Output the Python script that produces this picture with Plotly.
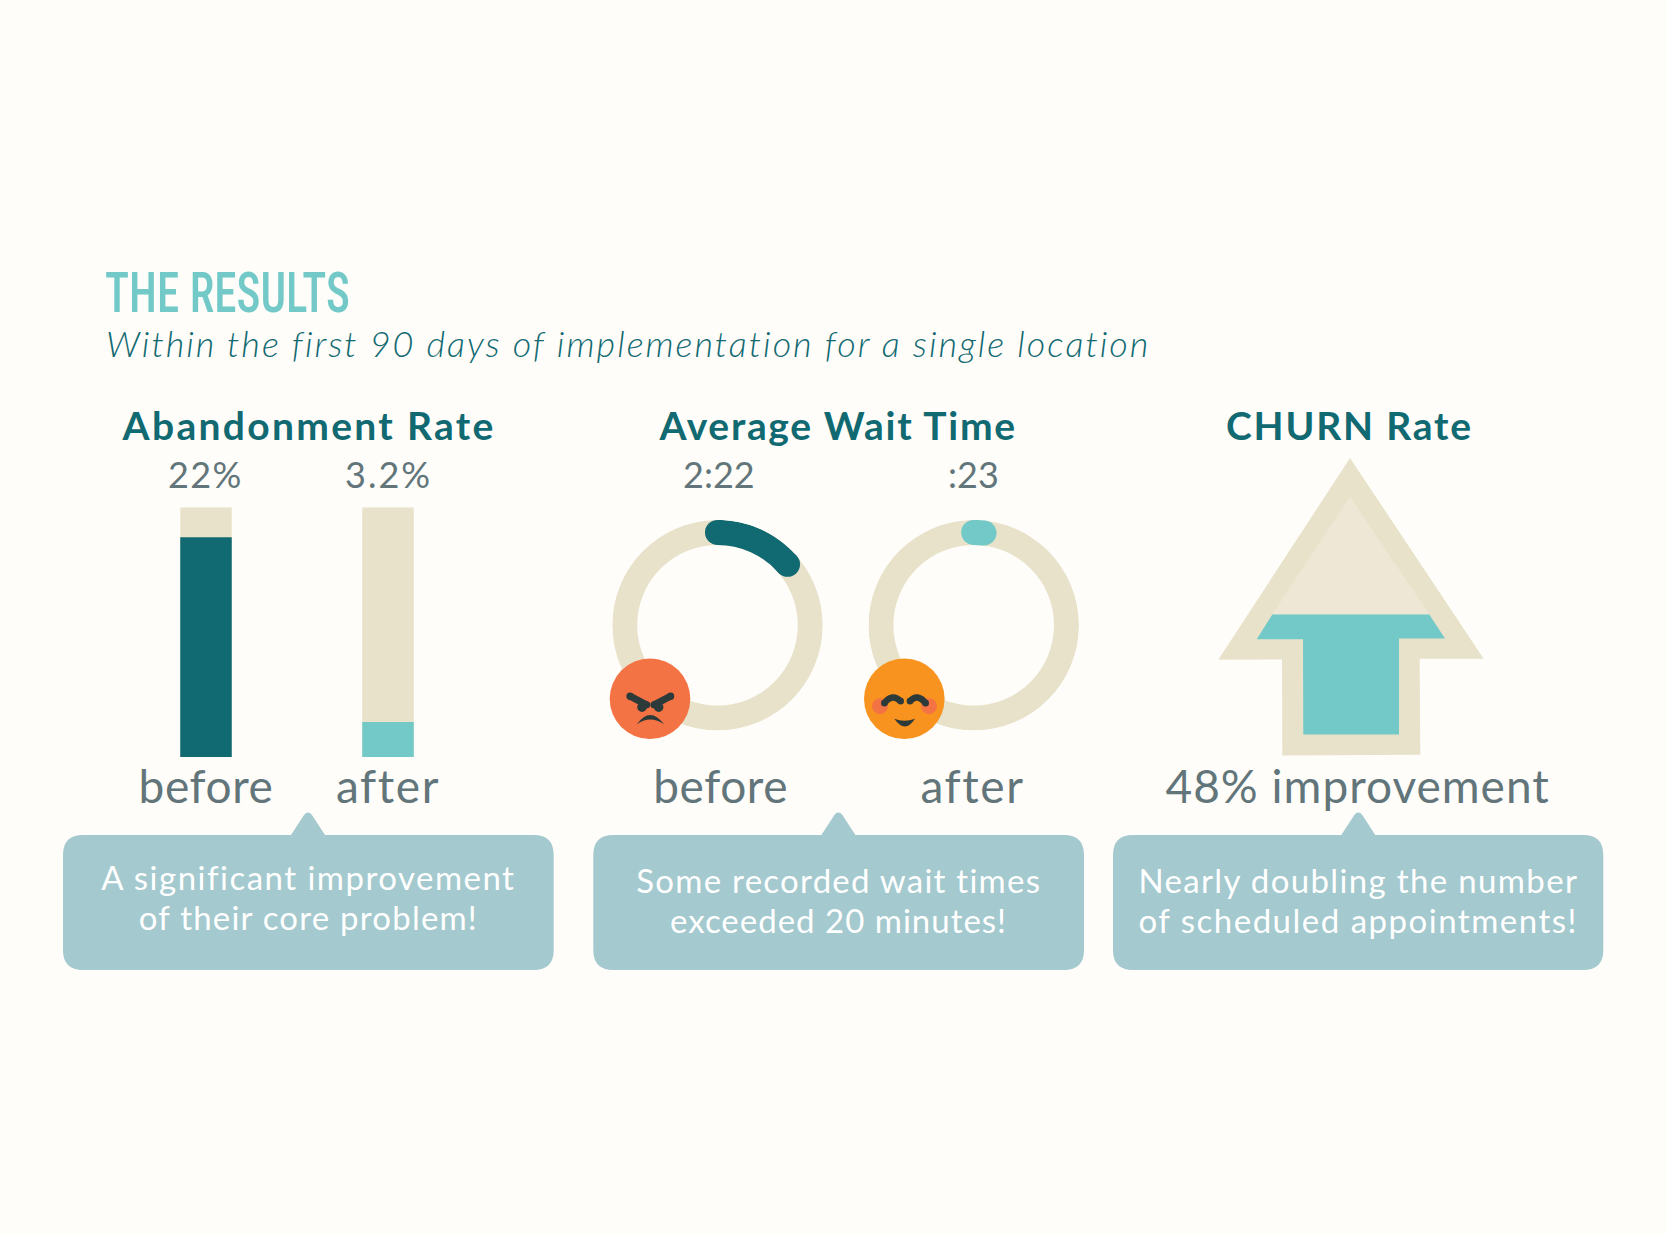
import json
import plotly.graph_objects as go

W = 1667
H = 1234

# data
bar_labels = ["before", "after"]
bar_values = [22, 3.5]
bar_value_text = ["22%", "3.2%"]
bar_max = 25
wait_labels = ["before", "after"]
wait_text = ["2:22", ":23"]
wait_arc_deg = [49, 6.4]
churn_text = "48% improvement"
headers = ["Abandonment Rate", "Average Wait Time", "CHURN Rate"]
bubble_lines = [
    ["A significant improvement", "of their core problem!"],
    ["Some recorded wait times", "exceeded 20 minutes!"],
    ["Nearly doubling the number", "of scheduled appointments!"],
]
title_text = "THE RESULTS"
subtitle_text = "Within the first 90 days of implementation for a single location"

BG = "#FEFDF9"
DARK = "#116972"
TEAL = "#72C9C7"
BEIGE = "#E9E2CB"
BEIGE2 = "#EEE7D5"
GREY = "#62757A"
BUBBLE = "#A4C9CE"
RED = "#F37344"
ORANGE = "#F8931F"
INK = "#2D3A3A"
FONT = "Lato"
NARROW = "Roboto Condensed, Lato"


def fx(x):
    return x / W


def fy(y):
    return 1 - y / H


def pt(x, y):
    return f"{fx(x):.5f},{fy(y):.5f}"


def poly(points):
    return "M" + " L".join(pt(*p) for p in points) + " Z"


def path_shape(path, fill, line=None, width=0):
    return dict(type="path", xref="paper", yref="paper", path=path, fillcolor=fill,
                line=dict(color=line or "rgba(0,0,0,0)", width=width), layer="above")


def circle(cx, cy, r, fill):
    return dict(type="circle", xref="paper", yref="paper", x0=fx(cx - r), x1=fx(cx + r),
                y0=fy(cy + r), y1=fy(cy - r), fillcolor=fill, line=dict(width=0), layer="above")


def bubble(x0, x1, y0, y1, tail_c, tip_y, r=20):
    d = "M" + pt(x0 + r, y0)
    d += " L" + pt(tail_c - 17, y0)
    d += " L" + pt(tail_c - 4, tip_y + 4)
    d += " Q" + pt(tail_c, tip_y - 1) + " " + pt(tail_c + 4, tip_y + 4)
    d += " L" + pt(tail_c + 17, y0)
    d += " L" + pt(x1 - r, y0) + " Q" + pt(x1, y0) + " " + pt(x1, y0 + r)
    d += " L" + pt(x1, y1 - r) + " Q" + pt(x1, y1) + " " + pt(x1 - r, y1)
    d += " L" + pt(x0 + r, y1) + " Q" + pt(x0, y1) + " " + pt(x0, y1 - r)
    d += " L" + pt(x0, y0 + r) + " Q" + pt(x0, y0) + " " + pt(x0 + r, y0) + " Z"
    return path_shape(d, BUBBLE)


def label(x, y, text, size, color, bold=False, italic=False, anchor="center", family=FONT, weight=None):
    return dict(xref="paper", yref="paper", x=fx(x), y=fy(y), text=text, showarrow=False,
                xanchor=anchor, yanchor="middle", align=anchor,
                font=dict(family=family, size=size, color=color,
                          weight=weight if weight else (700 if bold else 400),
                          style="italic" if italic else "normal"))


fig = go.Figure()

# abandonment bars
fig.add_trace(go.Bar(x=bar_labels, y=[bar_max] * len(bar_labels), marker=dict(color=BEIGE, line=dict(width=0)),
                     xaxis="x", yaxis="y", hoverinfo="skip"))
fig.add_trace(go.Bar(x=bar_labels, y=bar_values, marker=dict(color=[DARK, TEAL], line=dict(width=0)),
                     xaxis="x", yaxis="y", hoverinfo="skip"))

# wait time rings
ring_R = 105.3
ring_w = 25
ring_centers = [(717.5, 625.2), (973.7, 625.2)]
inner = (ring_R - ring_w) / ring_R
mid = (ring_R - ring_w / 2) / ring_R
arc_colors = [DARK, TEAL]
polar_names = ["polar", "polar2"]
for i, name in enumerate(polar_names):
    fig.add_trace(go.Barpolar(r=[1 - inner], base=[inner], theta=[180], width=[360], subplot=name,
                              marker=dict(color=BEIGE, line=dict(width=0)), hoverinfo="skip"))
    fig.add_trace(go.Barpolar(r=[1 - inner], base=[inner], theta=[wait_arc_deg[i] / 2], width=[wait_arc_deg[i]],
                              subplot=name, marker=dict(color=arc_colors[i], line=dict(width=0)), hoverinfo="skip"))
    fig.add_trace(go.Scatterpolar(r=[mid, mid], theta=[0, wait_arc_deg[i]], mode="markers", subplot=name,
                                  marker=dict(color=arc_colors[i], size=ring_w, line=dict(width=0)),
                                  hoverinfo="skip"))

shapes = []

# angry face
ax, ay = 605, 655.5
def a(x, y):
    return (ax + x / 3, ay + y / 3)
shapes.append(circle(650, 698.8, 40.3, RED))
for p0, p1, eye in [((75, 122), (125, 148), (111, 155)), ((197, 122), (147, 148), (161, 155))]:
    shapes.append(path_shape("M" + pt(*a(*p0)) + " L" + pt(*a(*p1)), "rgba(0,0,0,0)", INK, 7))
    shapes.append(circle(*a(*p0), 3.6, INK))
    shapes.append(circle(*a(*p1), 3.6, INK))
    shapes.append(circle(*a(*eye), 4.8, INK))
shapes.append(path_shape("M" + pt(*a(95, 207)) + " Q" + pt(*a(135, 150)) + " " + pt(*a(178, 207))
                         + " Q" + pt(*a(135, 177)) + " " + pt(*a(95, 207)) + " Z", INK))

# happy face
bx, by = 860, 655.5
def b(x, y):
    return (bx + x / 3, by + y / 3)
shapes.append(circle(904.3, 698.8, 40.3, ORANGE))
shapes.append(circle(*b(60, 152), 8, RED))
shapes.append(circle(*b(207, 152), 8, RED))
for p0, c, p1 in [((73, 143), (97, 112), (122, 137)), ((150, 137), (172, 112), (197, 143))]:
    shapes.append(path_shape("M" + pt(*b(*p0)) + " Q" + pt(*b(*c)) + " " + pt(*b(*p1)), "rgba(0,0,0,0)", INK, 6.5))
    shapes.append(circle(*b(*p0), 3.3, INK))
    shapes.append(circle(*b(*p1), 3.3, INK))
shapes.append(path_shape("M" + pt(*b(103, 190)) + " Q" + pt(*b(133, 202)) + " " + pt(*b(165, 190))
                         + " Q" + pt(*b(135, 236)) + " " + pt(*b(103, 190)) + " Z", INK))

# churn arrow
shapes.append(path_shape(poly([(1350, 458), (1483.7, 658.8), (1419.7, 658.8), (1420.3, 754.8),
                               (1282.3, 755.5), (1282, 659.5), (1218.3, 659.8)]), BEIGE))
shapes.append(path_shape(poly([(1350, 496.5), (1429.3, 614.5), (1272.3, 614.5)]), BEIGE2))
shapes.append(path_shape(poly([(1272.3, 614.5), (1429.3, 614.5), (1445, 638.5), (1399, 638.5), (1399, 734.5),
                               (1303.3, 734.5), (1303, 639.2), (1256.7, 639.2)]), TEAL))

# callouts
bubble_boxes = [(63, 553.7, 308), (593.3, 1084, 838.4), (1113, 1603.3, 1358.3)]
for x0, x1, tc in bubble_boxes:
    shapes.append(bubble(x0, x1, 835, 970, tc, 811))

annotations = [
    label(102.5, 293, title_text, 55, TEAL, anchor="left", family=NARROW, weight=500),
    label(104, 343, subtitle_text, 36, DARK, italic=True, anchor="left", weight=300),
    label(308.5, 425, headers[0], 39, DARK, bold=True),
    label(837, 425, headers[1], 39, DARK, bold=True),
    label(1349, 425, headers[2], 39, DARK, bold=True),
    label(205, 474, bar_value_text[0], 36, GREY),
    label(388, 474, bar_value_text[1], 36, GREY),
    label(719, 474, wait_text[0], 36, GREY),
    label(973, 474, wait_text[1], 36, GREY),
    label(720, 785, wait_labels[0], 46, GREY),
    label(972, 785, wait_labels[1], 46, GREY),
    label(1358, 785, churn_text, 46, GREY),
]
line_ys = [(876.5, 917), (879.5, 920), (879.5, 920)]
for (x0, x1, tc), lines, ys in zip(bubble_boxes, bubble_lines, line_ys):
    for line, y in zip(lines, ys):
        annotations.append(label((x0 + x1) / 2, y, line, 33, "white"))

polar_axes = {}
for name, (cx, cy) in zip(polar_names, ring_centers):
    polar_axes[name] = dict(
        domain=dict(x=[fx(cx - ring_R), fx(cx + ring_R)], y=[fy(cy + ring_R), fy(cy - ring_R)]),
        bgcolor="rgba(0,0,0,0)",
        radialaxis=dict(range=[0, 1], visible=False),
        angularaxis=dict(visible=False, rotation=90, direction="clockwise"),
    )

fig.update_layout(
    width=W,
    height=H,
    margin=dict(l=0, r=0, t=0, b=0),
    paper_bgcolor=BG,
    plot_bgcolor="rgba(0,0,0,0)",
    showlegend=False,
    barmode="overlay",
    bargap=0.717,
    xaxis=dict(domain=[fx(115), fx(479)], showgrid=False, zeroline=False, showline=False,
               tickfont=dict(family=FONT, size=46, color=GREY), ticks="", ticklabelstandoff=-1,
               fixedrange=True),
    yaxis=dict(domain=[fy(757), fy(507.2)], range=[0, bar_max], visible=False, fixedrange=True),
    shapes=shapes,
    annotations=annotations,
    **polar_axes,
)

# the original type is tracked wider than Lato, plotly has no option for it
spacing = {subtitle_text: 2.0, bar_value_text[0]: 1.3, bar_value_text[1]: 2.0, churn_text: 1.0,
           wait_labels[0]: 0.6, wait_labels[1]: 1.6,
           headers[0]: 2.3, headers[1]: 1.7, headers[2]: 1.8,
           bubble_lines[0][0]: 1.48, bubble_lines[0][1]: 1.2,
           bubble_lines[1][0]: 1.25, bubble_lines[1][1]: 1.0,
           bubble_lines[2][0]: 1.35, bubble_lines[2][1]: 1.5}

post = """
document.body.style.margin='0';document.body.style.background='%s';
var sp=%s;
document.querySelectorAll('.annotation-text, .xtick text').forEach(function(t){
  var v=sp[t.textContent]; if(v){t.style.letterSpacing=v+'px';}
  if(t.textContent==%s){t.setAttribute('textLength','245');t.setAttribute('lengthAdjust','spacingAndGlyphs');}
});
""" % (BG, json.dumps(spacing), json.dumps(title_text))

fig.write_html("out.html", config={"displayModeBar": False}, post_script=post)
